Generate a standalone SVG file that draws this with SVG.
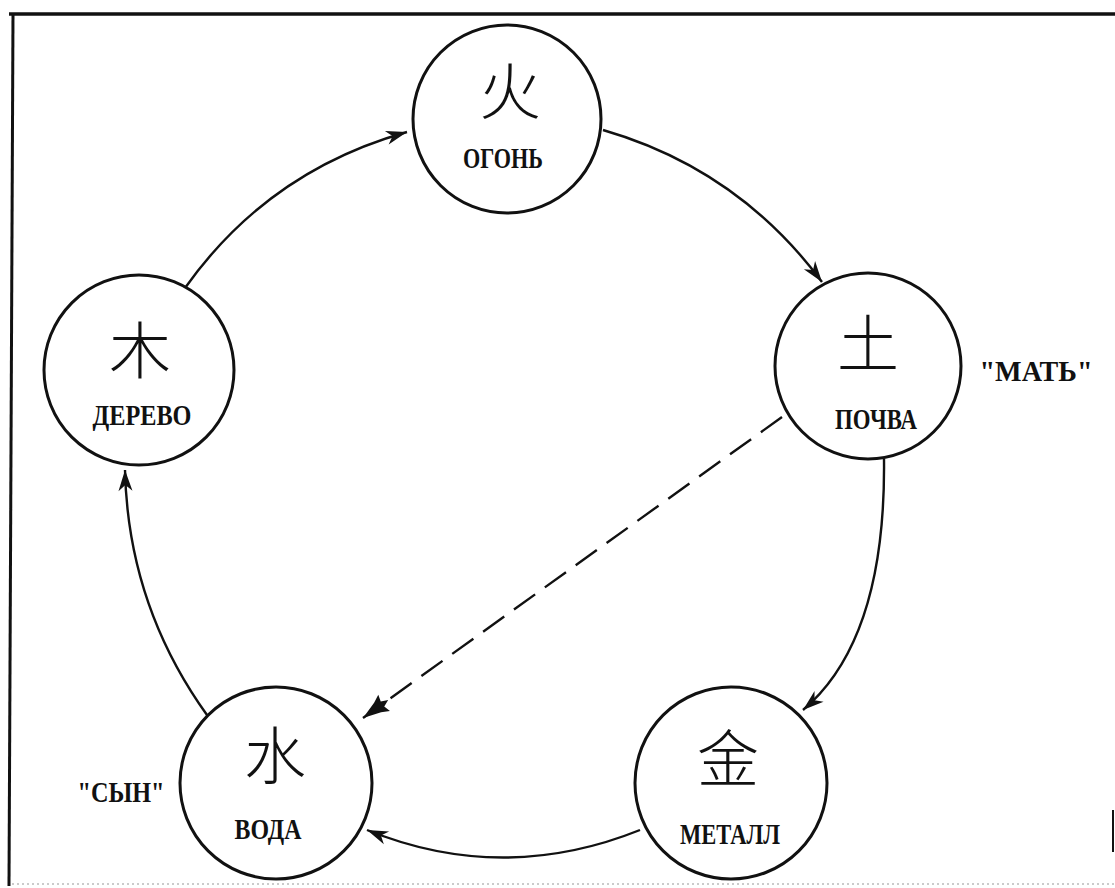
<svg xmlns="http://www.w3.org/2000/svg" width="1115" height="888" viewBox="0 0 1115 888">
<style>
.c{fill:#fff;stroke:#111;stroke-width:3}
.k{font-family:"Noto Sans CJK SC","Noto Sans CJK JP",sans-serif;font-size:62px;fill:#111;text-anchor:middle;dominant-baseline:central;font-weight:300}
.t{font-family:"Liberation Serif",serif;font-weight:bold;font-size:29px;fill:#111;text-anchor:middle}
.e{fill:none;stroke:#111;stroke-width:2.4}
</style>
<defs>
<marker id="a" viewBox="-22 -8 24 16" markerWidth="24" markerHeight="16" refX="0" refY="0" orient="auto" markerUnits="userSpaceOnUse">
<path d="M0,0 L-21,-7 L-15,0 L-21,7 Z" fill="#111"/>
</marker>
<marker id="b" viewBox="-32 -11 34 22" markerWidth="34" markerHeight="22" refX="0" refY="0" orient="auto" markerUnits="userSpaceOnUse">
<path d="M0,0 L-18,-6 L-26,-10 L-24,-3 L-31,0 L-24,3 L-26,10 L-18,6 Z" fill="#111"/>
</marker>
</defs>
<rect width="1115" height="888" fill="#fff"/>
<g id="frame" stroke="#111" fill="none">
<line x1="9" y1="14" x2="1115" y2="14" stroke-width="3.5"/>
<line x1="13" y1="14" x2="9" y2="886" stroke-width="3"/>
<line x1="1113" y1="810" x2="1113" y2="852" stroke-width="2"/>
<line x1="12" y1="884" x2="1115" y2="884" stroke-width="1.5" stroke="#bbb" stroke-dasharray="2 3"/>
</g>
<g id="connectors">
<path class="e" d="M185,288 Q268,171 407,132" marker-end="url(#a)"/>
<path class="e" d="M603,130 Q738,169 822,282" marker-end="url(#a)"/>
<path class="e" d="M884,459 Q886,640 803,710" marker-end="url(#a)"/>
<path class="e" d="M640,830 Q503,885 367,830" marker-end="url(#a)"/>
<path class="e" d="M207,715 Q128,605 125,470" marker-end="url(#a)"/>
<path class="e" d="M782,417 L363,718" stroke-dasharray="26 12" stroke-width="2.6" marker-end="url(#b)"/>
</g>
<g id="fire">
<circle class="c" cx="507" cy="119" r="94"/>
<text class="k" x="510" y="88">火</text>
<text class="t" x="503" y="168" textLength="80" lengthAdjust="spacingAndGlyphs">ОГОНЬ</text>
</g>
<g id="soil">
<circle class="c" cx="868" cy="366" r="93"/>
<text class="k" x="868" y="340">土</text>
<text class="t" x="876" y="429" textLength="82" lengthAdjust="spacingAndGlyphs">ПОЧВА</text>
</g>
<g id="mother">
<text class="t" x="1036" y="381" textLength="113" lengthAdjust="spacingAndGlyphs">"МАТЬ"</text>
</g>
<g id="wood">
<circle class="c" cx="139" cy="370" r="95"/>
<text class="k" x="140" y="347">木</text>
<text class="t" x="142" y="425" textLength="99" lengthAdjust="spacingAndGlyphs">ДЕРЕВО</text>
</g>
<g id="water">
<circle class="c" cx="276" cy="783" r="96"/>
<text class="k" x="275" y="752">水</text>
<text class="t" x="268" y="839" textLength="67" lengthAdjust="spacingAndGlyphs">ВОДА</text>
</g>
<g id="son">
<text class="t" x="121" y="802" textLength="87" lengthAdjust="spacingAndGlyphs">"СЫН"</text>
</g>
<g id="metal">
<circle class="c" cx="731" cy="783" r="96"/>
<text class="k" x="728" y="755">金</text>
<text class="t" x="730" y="844" textLength="100" lengthAdjust="spacingAndGlyphs">МЕТАЛЛ</text>
</g>
</svg>
